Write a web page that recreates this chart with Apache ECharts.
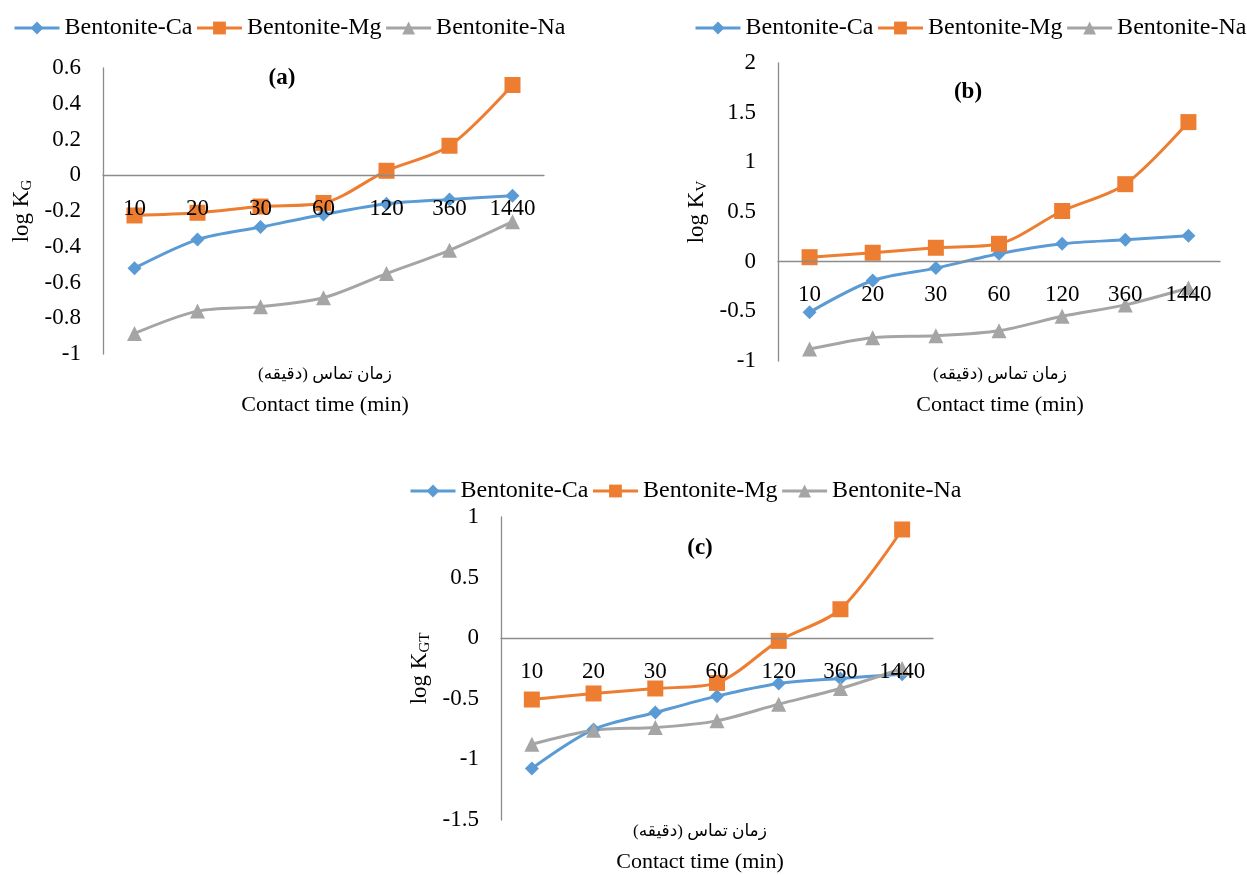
<!DOCTYPE html>
<html>
<head>
<meta charset="utf-8">
<title>log K vs contact time</title>
<script src="https://cdn.jsdelivr.net/npm/echarts@6/dist/echarts.min.js"></script>
<style>
  html, body { margin: 0; padding: 0; background: #fff; }
  #main { width: 1247px; height: 875px; }
</style>
</head>
<body>
<div id="main"></div>
<script>
// contact time categories (min)
var categories = ['10', '20', '30', '60', '120', '360', '1440'];

// (a) log KG
var kgCa = [-0.52, -0.36, -0.29, -0.22, -0.16, -0.135, -0.115];
var kgMg = [-0.225, -0.21, -0.175, -0.155, 0.025, 0.165, 0.505];
var kgNa = [-0.885, -0.76, -0.735, -0.685, -0.55, -0.42, -0.26];

// (b) log KV
var kvCa = [-0.51, -0.19, -0.065, 0.08, 0.18, 0.22, 0.26];
var kvMg = [0.045, 0.09, 0.14, 0.18, 0.51, 0.78, 1.405];
var kvNa = [-0.88, -0.765, -0.745, -0.695, -0.55, -0.435, -0.265];

// (c) log KGT
var kgtCa = [-1.075, -0.753, -0.613, -0.478, -0.374, -0.332, -0.297];
var kgtMg = [-0.506, -0.456, -0.415, -0.369, -0.022, 0.239, 0.897];
var kgtNa = [-0.875, -0.759, -0.737, -0.682, -0.544, -0.415, -0.25];

var seriesNames = ['Bentonite-Ca', 'Bentonite-Mg', 'Bentonite-Na'];
var colors = ['#5B9BD5', '#ED7D31', '#A5A5A5'];
var symbols = ['diamond', 'rect', 'triangle'];
var symbolSizes = [14, 16, 15];

var font = "'Liberation Serif', 'Times New Roman', serif";
var faFont = "'Liberation Serif', 'DejaVu Sans', serif";
var axisColor = '#8c8c8c';

// grid boxes + y ranges
var grids = [
    { left: 103, top: 68, width: 441, height: 286 },
    { left: 778, top: 63, width: 442, height: 298 },
    { left: 501, top: 517, width: 432, height: 303 }
];
var yRanges = [[-1, 0.6, 0.2], [-1, 2, 0.5], [-1.5, 1, 0.5]];

var myChart = echarts.init(document.getElementById('main'));

function makeX(idx) {
    // x axis sits on y = 0, shift it up from the grid bottom
    var r = yRanges[idx];
    var h = grids[idx].height;
    var off = -(h * (0 - r[0]) / (r[1] - r[0]));
    return {
        type: 'category',
        gridIndex: idx,
        data: categories,
        boundaryGap: true,
        position: 'bottom',
        offset: off,
        z: 5,
        axisLine: { onZero: false, lineStyle: { color: axisColor, width: 1.3 } },
        axisTick: { show: false },
        axisLabel: { color: '#000', fontFamily: font, fontSize: 23, margin: 22 }
    };
}

function makeY(idx, sub) {
    var r = yRanges[idx];
    return {
        type: 'value',
        gridIndex: idx,
        min: r[0],
        max: r[1],
        interval: r[2],
        splitLine: { show: false },
        axisTick: { show: false },
        axisLine: { show: true, onZero: false, lineStyle: { color: axisColor, width: 1.3 } },
        axisLabel: { color: '#000', fontFamily: font, fontSize: 23, margin: 22 },
        name: '{m|log K}{s|' + sub + '}',
        nameLocation: 'middle',
        nameRotate: 90,
        nameGap: 68,
        nameTextStyle: {
            rich: {
                m: { fontFamily: font, fontSize: 23, color: '#000', lineHeight: 26, verticalAlign: 'middle' },
                s: { fontFamily: font, fontSize: 15, color: '#000', lineHeight: 14, verticalAlign: 'bottom' }
            }
        }
    };
}

function makeSeries(idx, data) {
    var out = [];
    for (var i = 0; i < 3; i++) {
        out.push({
            name: seriesNames[i],
            type: 'line',
            xAxisIndex: idx,
            yAxisIndex: idx,
            data: data[i],
            smooth: 0.3,
            symbol: symbols[i],
            symbolSize: symbolSizes[i],
            itemStyle: { color: colors[i] },
            lineStyle: { color: colors[i], width: 3 }
        });
    }
    return out;
}

function makeLegend(left, top) {
    return {
        left: left,
        top: top,
        width: 600,
        data: seriesNames,
        itemWidth: 45,
        itemHeight: 16,
        itemGap: 3,
        lineStyle: { width: 3 },
        textStyle: { fontFamily: font, fontSize: 24, color: '#000' }
    };
}

function label(x, y, text, size, bold, fam) {
    return {
        type: 'text',
        x: x,
        y: y,
        style: {
            text: text,
            fill: '#000',
            font: (bold ? 'bold ' : '') + size + 'px ' + (fam || font),
            textAlign: 'center',
            textVerticalAlign: 'middle'
        }
    };
}

var faName = 'زمان تماس (دقیقه)';
var enName = 'Contact time (min)';

var option = {
    animation: false,
    backgroundColor: '#fff',
    legend: [
        makeLegend(8, 11),
        makeLegend(689, 11),
        makeLegend(404, 474)
    ],
    grid: grids,
    xAxis: [makeX(0), makeX(1), makeX(2)],
    yAxis: [makeY(0, 'G'), makeY(1, 'V'), makeY(2, 'GT')],
    series: []
        .concat(makeSeries(0, [kgCa, kgMg, kgNa]))
        .concat(makeSeries(1, [kvCa, kvMg, kvNa]))
        .concat(makeSeries(2, [kgtCa, kgtMg, kgtNa])),
    graphic: [
        label(282, 78, '(a)', 23, true),
        label(968, 92, '(b)', 23, true),
        label(700, 548, '(c)', 23, true),
        label(325, 375, faName, 17, false, faFont),
        label(325, 405, enName, 22, false),
        label(1000, 375, faName, 17, false, faFont),
        label(1000, 405, enName, 22, false),
        label(700, 832, faName, 17, false, faFont),
        label(700, 862, enName, 22, false)
    ]
};

myChart.setOption(option);
</script>
</body>
</html>
